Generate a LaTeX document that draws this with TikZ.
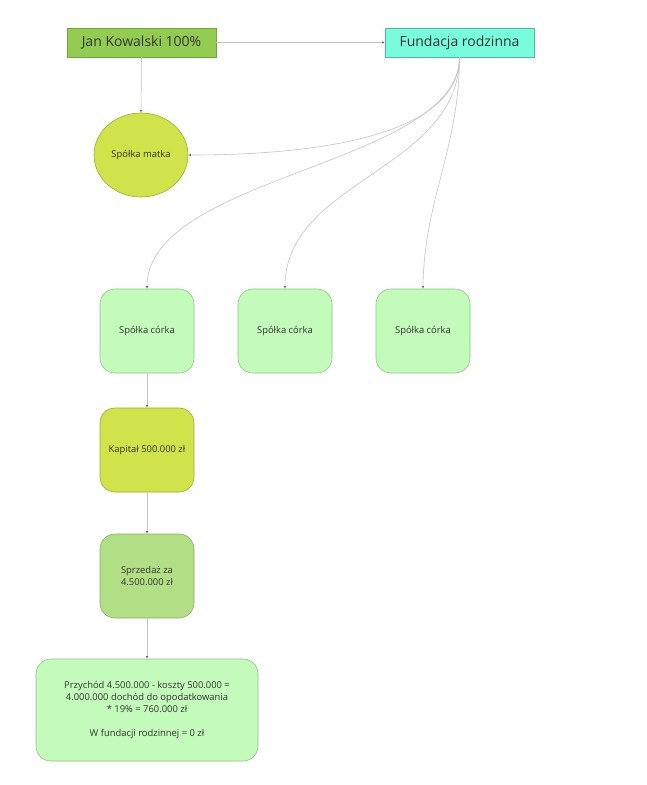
\documentclass[tikz,border=0pt]{standalone}
\usepackage{fontspec}
\setmainfont{Open Sans}
\usetikzlibrary{arrows.meta,shapes.geometric}
\definecolor{jan}{HTML}{92CD52}
\definecolor{janB}{HTML}{6FA83A}
\definecolor{fund}{HTML}{77FDDC}
\definecolor{fundB}{HTML}{4FB89E}
\definecolor{matka}{HTML}{D0E34A}
\definecolor{matkaB}{HTML}{9AAE2E}
\definecolor{corka}{HTML}{C3FBBB}
\definecolor{corkaB}{HTML}{8CC485}
\definecolor{sprz}{HTML}{B2DF85}
\definecolor{sprzB}{HTML}{86B35C}
\definecolor{txt}{HTML}{333333}
\definecolor{conn}{HTML}{C4C4C4}
\tikzset{
  topbox/.style={draw=#1, line width=0.6pt, minimum width=149pt, minimum height=29pt, inner sep=0pt, font=\fontsize{14}{17}\selectfont, text=txt},
  rbox/.style={draw=#1, line width=0.6pt, rounded corners=15pt, minimum width=94pt, minimum height=84pt, inner sep=2pt, font=\fontsize{9.4}{12}\selectfont, text=txt, align=center},
  conline/.style={draw=conn, line width=0.6pt, -{Latex[length=2.5pt,width=2pt,color=gray!70!black]}},
}
\begin{document}
\begin{tikzpicture}[x=1pt,y=-1pt]
\useasboundingbox[fill=white] (0,0) rectangle (646,785);
\node[topbox=janB, fill=jan] (jan) at (141.5,42.5) {Jan Kowalski 100\%};
\node[topbox=fundB, fill=fund] (fund) at (459.5,42.5) {Fundacja rodzinna};
\node[ellipse, draw=matkaB, fill=matka, line width=0.6pt, minimum width=94pt, minimum height=84pt, inner sep=0pt, font=\fontsize{9.4}{12}\selectfont, text=txt] (matka) at (141,155) {Spółka matka};
\node[rbox=corkaB, fill=corka] (c1) at (147,331) {Spółka córka};
\node[rbox=corkaB, fill=corka] (c2) at (285,331) {Spółka córka};
\node[rbox=corkaB, fill=corka] (c3) at (423,331) {Spółka córka};
\node[rbox=matkaB, fill=matka] (kap) at (147,450) {Kapitał 500.000 zł};
\node[rbox=sprzB, fill=sprz] (sprz) at (147,576) {Sprzedaż za\\4.500.000 zł};
\node[rbox=corkaB, fill=corka, minimum width=222pt, minimum height=102pt] (wynik) at (147,710) {Przychód 4.500.000 - koszty 500.000 =\\4.000.000 dochód do opodatkowania\\* 19\% = 760.000 zł\\[12pt]W fundacji rodzinnej = 0 zł};

\draw[conline] (jan.east) -- (fund.west);
\draw[conline] (jan.south) -- (matka.north);
\draw[conline] (fund.south) .. controls (459,150) and (260,155) .. (matka.east);
\draw[conline] (fund.south) .. controls (459,165) and (147,175) .. (c1.north);
\draw[conline] (fund.south) .. controls (459,170) and (285,180) .. (c2.north);
\draw[conline] (fund.south) .. controls (459,150) and (424,200) .. (c3.north);
\draw[conline] (c1.south) -- (kap.north);
\draw[conline] (kap.south) -- (sprz.north);
\draw[conline] (sprz.south) -- (wynik.north);
\end{tikzpicture}
\end{document}
